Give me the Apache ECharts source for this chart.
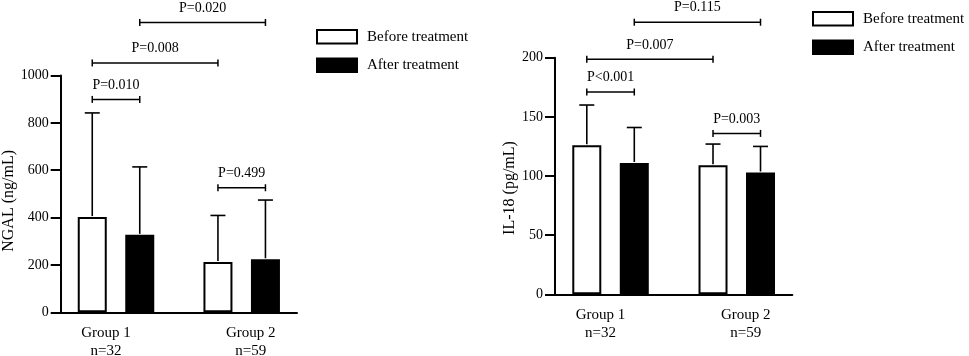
<!DOCTYPE html>
<html>
<head>
<meta charset="utf-8">
<script src="https://cdn.jsdelivr.net/npm/echarts@6/dist/echarts.min.js"></script>
<style>
  html, body { margin: 0; padding: 0; background: #fff; }
  #chart { width: 969px; height: 356px; }
</style>
</head>
<body>
<div id="chart"></div>
<script>
// groups on the x axis
const groups = ['Group 1', 'Group 2'];
const groupN = ['n=32', 'n=59'];
const seriesNames = ['Before treatment', 'After treatment'];

// NGAL (ng/mL): bar mean and upper end of error bar
const ngalBeforeMean = [402, 212];
const ngalBeforeTop = [842, 409];
const ngalAfterMean = [327, 224];
const ngalAfterTop = [614, 474];

// IL-18 (pg/mL)
const il18BeforeMean = [126, 109];
const il18BeforeTop = [160, 127];
const il18AfterMean = [111, 103];
const il18AfterTop = [141, 125];

// significance brackets: [from bar, to bar, height]; bars 0..3 = G1 before, G1 after, G2 before, G2 after
const ngalBrackets = [[0, 1, 899], [0, 2, 1053], [1, 3, 1224], [2, 3, 526]];
const ngalPLabels = ['P=0.010', 'P=0.008', 'P=0.020', 'P=0.499'];
const il18Brackets = [[0, 1, 171], [0, 2, 198.6], [1, 3, 230], [2, 3, 136]];
const il18PLabels = ['P<0.001', 'P=0.007', 'P=0.115', 'P=0.003'];

const FONT = "'Liberation Serif', 'Times New Roman', serif";
const BAR_W = 29;
const BAR_GAP = 18.5;
const HALF = (BAR_W + BAR_GAP) / 2;
const CAP = 15;

const chart = echarts.init(document.getElementById('chart'));

function errorBar(side) {
  return function (params, api) {
    const g = api.value(0);
    const base = api.coord([g, api.value(1)]);
    const top = api.coord([g, api.value(2)]);
    const x = base[0] + side * HALF;
    const st = { stroke: '#000', lineWidth: 1.6 };
    return {
      type: 'group',
      children: [
        { type: 'line', shape: { x1: x, y1: base[1] - 1, x2: x, y2: top[1] }, style: st },
        { type: 'line', shape: { x1: x - CAP / 2, y1: top[1], x2: x + CAP / 2, y2: top[1] }, style: st }
      ]
    };
  };
}

function bracket(labels) {
  return function (params, api) {
    const slotX = s => api.coord([Math.floor(s / 2), 0])[0] + (s % 2 ? 1 : -1) * HALF;
    const x1 = slotX(api.value(0));
    const x2 = slotX(api.value(1));
    const y = api.coord([0, api.value(2)])[1];
    const st = { stroke: '#000', lineWidth: 1.5 };
    return {
      type: 'group',
      children: [
        { type: 'line', shape: { x1: x1, y1: y, x2: x2, y2: y }, style: st },
        { type: 'line', shape: { x1: x1, y1: y - 3.5, x2: x1, y2: y + 3.5 }, style: st },
        { type: 'line', shape: { x1: x2, y1: y - 3.5, x2: x2, y2: y + 3.5 }, style: st },
        {
          type: 'text', x: (x1 + x2) / 2, y: y - 14.5,
          style: { text: labels[params.dataIndex], fontFamily: FONT, fontSize: 14, fill: '#000', align: 'center', verticalAlign: 'middle' }
        }
      ]
    };
  };
}

function xAxisFor(gridIndex) {
  return {
    type: 'value', gridIndex: gridIndex, min: -0.44, max: 1.44,
    axisLine: { show: true, onZero: false, lineStyle: { color: '#000', width: 2 } },
    axisTick: { show: false },
    splitLine: { show: false },
    axisLabel: {
      customValues: [0, 1],
      margin: 12,
      formatter: v => {
        const i = Math.round(v);
        const tag = i === 0 ? 'a' : 'b';
        return '{' + tag + '|' + groups[i] + '}\n{' + tag + '|' + groupN[i] + '}';
      },
      rich: {
        a: { fontFamily: FONT, fontSize: 15, color: '#000', lineHeight: 18, padding: [0, 20, 0, 0] },
        b: { fontFamily: FONT, fontSize: 15, color: '#000', lineHeight: 18, padding: [0, 0, 0, 18] }
      }
    }
  };
}

function yAxisFor(gridIndex, name, max, interval, nameGap, namePad) {
  return {
    type: 'value', gridIndex: gridIndex, min: 0, max: max, interval: interval,
    name: name, nameLocation: 'middle', nameGap: nameGap,
    nameTextStyle: { fontFamily: FONT, fontSize: 16, color: '#000', padding: [0, namePad, 0, 0] },
    axisLine: { show: true, onZero: false, lineStyle: { color: '#000', width: 2 } },
    axisTick: { show: true, length: 10, lineStyle: { color: '#000', width: 2 } },
    splitLine: { show: false },
    axisLabel: { fontFamily: FONT, fontSize: 14, color: '#000', margin: 12, formatter: v => String(v) }
  };
}

function legendAt(left, top) {
  return {
    data: seriesNames, orient: 'vertical', left: left, top: top, padding: 0,
    itemWidth: 40, itemHeight: 13.5, itemGap: 13, selectedMode: false,
    icon: 'rect',
    textStyle: { fontFamily: FONT, fontSize: 15, color: '#000', padding: [0, 0, 0, 5] }
  };
}

const pairs = (means) => means.map((v, i) => [i, v]);
const triples = (means, tops) => means.map((v, i) => [i, v, tops[i]]);

const beforeStyle = { color: '#fff', borderColor: '#000', borderWidth: 2 };
const afterStyle = { color: '#000', borderColor: '#000', borderWidth: 2 };

function barSeries(name, idx, data, style) {
  return {
    name: name, type: 'bar', xAxisIndex: idx, yAxisIndex: idx,
    barWidth: BAR_W, barGap: (BAR_GAP / BAR_W * 100) + '%',
    itemStyle: style, data: data, silent: true
  };
}

function customSeries(idx, render, data) {
  return {
    type: 'custom', xAxisIndex: idx, yAxisIndex: idx, clip: false, silent: true,
    renderItem: render, encode: { x: 0, y: 2 }, data: data, z: 3
  };
}

chart.setOption({
  animation: false,
  grid: [
    { left: 60.7, top: 75.5, width: 236.3, height: 236.8, outerBoundsMode: 'none', containLabel: false },
    { left: 555, top: 57.7, width: 237.3, height: 236.6, outerBoundsMode: 'none', containLabel: false }
  ],
  legend: [legendAt(316, 29), legendAt(812, 11)],
  xAxis: [xAxisFor(0), xAxisFor(1)],
  yAxis: [
    yAxisFor(0, 'NGAL (ng/mL)', 1000, 200, 43, 14),
    yAxisFor(1, 'IL-18 (pg/mL)', 200, 50, 37, 24)
  ],
  series: [
    barSeries(seriesNames[0], 0, pairs(ngalBeforeMean), beforeStyle),
    barSeries(seriesNames[1], 0, pairs(ngalAfterMean), afterStyle),
    barSeries(seriesNames[0], 1, pairs(il18BeforeMean), beforeStyle),
    barSeries(seriesNames[1], 1, pairs(il18AfterMean), afterStyle),
    customSeries(0, errorBar(-1), triples(ngalBeforeMean, ngalBeforeTop)),
    customSeries(0, errorBar(1), triples(ngalAfterMean, ngalAfterTop)),
    customSeries(1, errorBar(-1), triples(il18BeforeMean, il18BeforeTop)),
    customSeries(1, errorBar(1), triples(il18AfterMean, il18AfterTop)),
    customSeries(0, bracket(ngalPLabels), ngalBrackets),
    customSeries(1, bracket(il18PLabels), il18Brackets)
  ]
});

window.addEventListener('resize', () => chart.resize());
</script>
</body>
</html>
